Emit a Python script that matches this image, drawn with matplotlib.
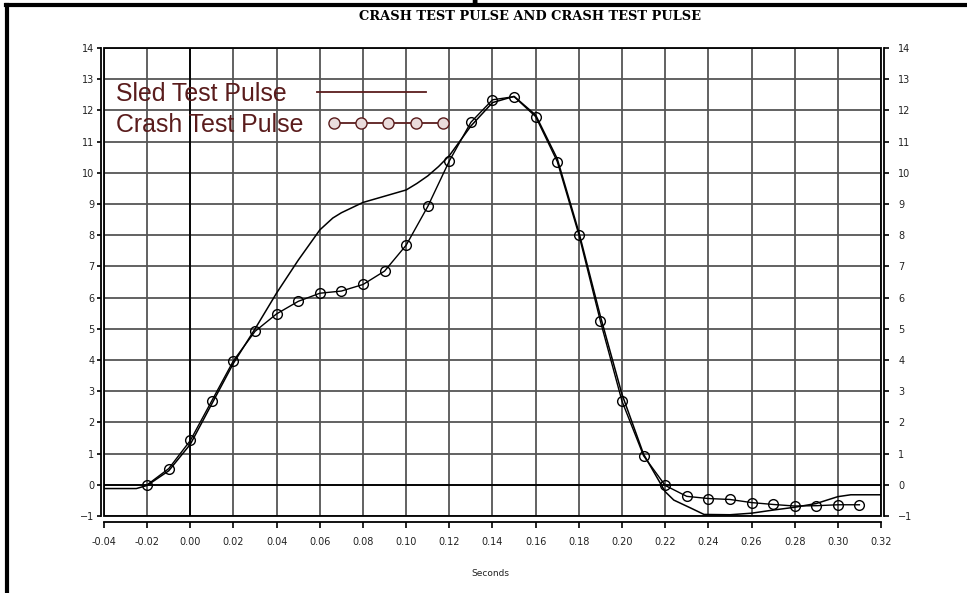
import numpy as np
import matplotlib.pyplot as plt
from matplotlib.lines import Line2D
from matplotlib.patches import Rectangle

# crash test pulse, one marker every 10 ms
crash_t = [-0.02, -0.01, 0.00, 0.01, 0.02, 0.03, 0.04, 0.05, 0.06, 0.07, 0.08,
           0.09, 0.10, 0.11, 0.12, 0.13, 0.14, 0.15, 0.16, 0.17, 0.18, 0.19,
           0.20, 0.21, 0.22, 0.23, 0.24, 0.25, 0.26, 0.27, 0.28, 0.29, 0.30, 0.31]
crash_g = [0.0, 0.52, 1.42, 2.7, 3.98, 4.92, 5.48, 5.88, 6.14, 6.21, 6.42,
           6.85, 7.68, 8.92, 10.38, 11.62, 12.34, 12.44, 11.8, 10.36, 8.02, 5.24,
           2.68, 0.93, -0.02, -0.37, -0.44, -0.47, -0.57, -0.63, -0.68, -0.67, -0.64, -0.64]

# sled test pulse (solid line)
sled_t = [-0.04, -0.025, -0.02, -0.01, 0.00, 0.01, 0.02, 0.03, 0.04, 0.05, 0.06,
          0.066, 0.07, 0.08, 0.09, 0.10, 0.105, 0.11, 0.115, 0.12, 0.13, 0.14,
          0.15, 0.16, 0.17, 0.18, 0.19, 0.20, 0.21, 0.22, 0.224, 0.232, 0.238,
          0.25, 0.26, 0.27, 0.28, 0.29, 0.30, 0.306, 0.32]
sled_g = [-0.12, -0.12, -0.02, 0.45, 1.3, 2.6, 3.9, 5.0, 6.15, 7.2, 8.17,
          8.55, 8.72, 9.05, 9.25, 9.45, 9.66, 9.9, 10.2, 10.55, 11.5, 12.25,
          12.45, 11.85, 10.45, 8.1, 5.4, 2.9, 0.98, -0.22, -0.49, -0.75, -0.95,
          -0.96, -0.91, -0.81, -0.72, -0.6, -0.38, -0.32, -0.32]

x_ticks = np.round(np.arange(-0.04, 0.3201, 0.02), 2)
y_ticks = list(range(-1, 15))
legend_red = '#5a1c1c'
grid_col = '#555555'

fig = plt.figure(figsize=(9.67, 5.93), dpi=100)
ax = fig.add_axes([104 / 967, 1 - 516 / 593, 777 / 967, 468 / 593])

ax.set_xlim(-0.04, 0.32)
ax.set_ylim(-1, 14)
ax.set_xticks(x_ticks)
ax.set_xticklabels(['%.2f' % v for v in x_ticks])
ax.set_yticks(y_ticks)
ax.grid(True, color=grid_col, lw=1.3)
ax.axhline(0, color='black', lw=1.3)
ax.axvline(0, color='black', lw=1.3)

ax.plot(sled_t, sled_g, color='black', lw=1.1)
ax.plot(crash_t, crash_g, color='black', lw=1.0, marker='o', ms=7,
        mfc='none', mec='black', mew=1.0)

# frame round the plot area
ax.add_patch(Rectangle((0, 0), 1, 1, transform=ax.transAxes, fill=False,
                       ec='black', lw=1.3, clip_on=False, zorder=5))
ax.spines['top'].set_visible(False)
ax.spines['right'].set_visible(False)
ax.spines['left'].set_position(('outward', 2))
ax.spines['bottom'].set_position(('outward', 4.3))
for s in ['left', 'bottom']:
    ax.spines[s].set_linewidth(1.3)
ax.tick_params(axis='x', length=4.5, width=1.2, pad=6, labelsize=7, labelcolor='#222')
ax.tick_params(axis='y', length=3, width=1.2, pad=2, labelsize=7, labelcolor='#222')

ax2 = ax.twinx()
ax2.set_ylim(-1, 14)
ax2.set_yticks(y_ticks)
for s in ['top', 'left', 'bottom']:
    ax2.spines[s].set_visible(False)
ax2.spines['right'].set_position(('outward', 2))
ax2.spines['right'].set_linewidth(1.3)
ax2.tick_params(axis='y', length=3.5, width=1.2, pad=7, labelsize=7, labelcolor='#222')

handles = [Line2D([], [], color=legend_red, lw=1.3),
           Line2D([], [], color=legend_red, lw=1.3, marker='o', ms=8,
                  mfc='#eadcdc', mec=legend_red)]
leg = ax2.legend(handles, ['Sled Test Pulse', 'Crash Test Pulse'], loc='upper left',
                 bbox_to_anchor=(0.016, 0.927), frameon=False, markerfirst=False,
                 numpoints=5, handlelength=5.0, handletextpad=0.9, labelspacing=0.28,
                 borderpad=0, borderaxespad=0, labelcolor=legend_red,
                 prop={'family': 'Liberation Sans', 'size': 17.9})
# texts left aligned, each sample right after its own text
for col in leg._legend_handle_box.get_children():
    col.align = 'left'

fig.text(0.548, 1 - 16.7 / 593, 'CRASH TEST PULSE AND CRASH TEST PULSE',
         ha='center', va='center', fontsize=9.4, fontweight='bold',
         family='DejaVu Serif')
fig.text(0.495, 1 + 0.5 / 593, 'p', ha='center', va='baseline', fontsize=20,
         fontweight='bold', family='DejaVu Serif')
fig.text(0.507, 1 - 574 / 593, 'Seconds', ha='center', va='center',
         fontsize=6.5, color='#222')

# outer page frame
fig.add_artist(Line2D([7 / 967, 7 / 967], [0, 1 - 5 / 593], color='black',
                      lw=3, transform=fig.transFigure))
fig.add_artist(Line2D([6 / 967, 1], [1 - 5 / 593, 1 - 5 / 593], color='black',
                      lw=3, transform=fig.transFigure))

fig.savefig('out.png', dpi=100)
